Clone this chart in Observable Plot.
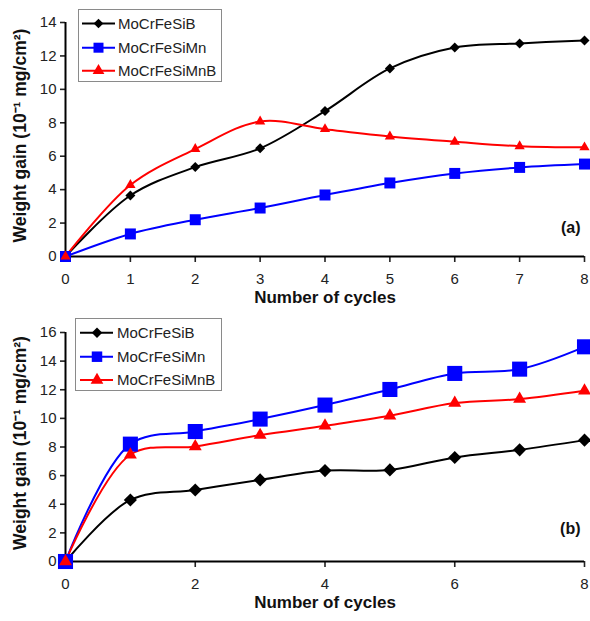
<!DOCTYPE html>
<html><head><meta charset="utf-8">
<script src="https://cdn.jsdelivr.net/npm/d3@7"></script>
<script src="https://cdn.jsdelivr.net/npm/@observablehq/plot@0.6"></script>
<style>
body{margin:0;background:#fff;font-family:"Liberation Sans",Arial,sans-serif;}
#wrap{position:relative;width:590px;height:621px;overflow:hidden;}
#wrap > svg{position:absolute;left:0;}
</style></head><body><div id="wrap"></div>
<script>
// ---- data ----
const cycles = [0, 1, 2, 3, 4, 5, 6, 7, 8];
const seriesNames = ["MoCrFeSiB", "MoCrFeSiMn", "MoCrFeSiMnB"];
const seriesColors = ["#000000", "#0000ff", "#ff0000"];
const seriesSymbols = ["diamond2", "square", "triangle"];

// panel (a)
const a_MoCrFeSiB   = [0, 3.65, 5.35, 6.47, 8.7, 11.25, 12.5, 12.75, 12.93];
const a_MoCrFeSiMn  = [0, 1.35, 2.2, 2.9, 3.68, 4.4, 4.97, 5.33, 5.53];
const a_MoCrFeSiMnB = [0, 4.28, 6.43, 8.08, 7.62, 7.18, 6.87, 6.6, 6.53];
// panel (b)
const b_MoCrFeSiB   = [0, 4.3, 5.0, 5.7, 6.35, 6.4, 7.27, 7.8, 8.48];
const b_MoCrFeSiMn  = [0, 8.2, 9.08, 9.95, 10.93, 12.02, 13.14, 13.44, 15.0];
const b_MoCrFeSiMnB = [0, 7.46, 8.04, 8.83, 9.48, 10.18, 11.07, 11.35, 11.93];

const aYTicks = [0, 2, 4, 6, 8, 10, 12, 14];
const bYTicks = [0, 2, 4, 6, 8, 10, 12, 14, 16];
const aXTicks = [0, 1, 2, 3, 4, 5, 6, 7, 8];
const bXTicks = [0, 2, 4, 6, 8];
const xTitle = "Number of cycles";
const yTitle = "Weight gain (10\u207B\u00B9 mg/cm\u00B2)";

// ---- drawing ----
const FONT = "'Liberation Sans', Arial, sans-serif";
const wrap = document.getElementById("wrap");

function panel({series, yMax, yTicks, xTicks, tag, height, top, marginBottom, radii, tagDy}) {
  const marks = [
    Plot.axisY({ticks: yTicks, tickSize: 5, tickPadding: 4, strokeWidth: 1.6, fontSize: 15, label: null}),
    Plot.axisX({ticks: xTicks, tickSize: 6, tickPadding: 11, strokeWidth: 1.6, fontSize: 15, label: null}),
    Plot.ruleY([0], {stroke: "#000", strokeWidth: 2}),
    Plot.ruleX([0], {stroke: "#000", strokeWidth: 2})
  ];
  series.forEach((vals, i) => {
    const data = vals.map((v, j) => ({x: cycles[j], y: v}));
    marks.push(Plot.line(data, {x: "x", y: "y", stroke: seriesColors[i], strokeWidth: 2, curve: "catmull-rom"}));
  });
  series.forEach((vals, i) => {
    const data = vals.map((v, j) => ({x: cycles[j], y: v}));
    marks.push(Plot.dot(data, {x: "x", y: "y", symbol: () => seriesSymbols[i], fill: seriesColors[i], stroke: "none", r: radii[i]}));
  });
  marks.push(
    Plot.text([tag], {frameAnchor: "bottom-right", text: d => d, dx: -4, dy: tagDy, fontWeight: "bold", fontSize: 16, textAnchor: "end", fill: "#111"}),
    Plot.text([xTitle], {frameAnchor: "bottom", text: d => d, dy: 46, fontWeight: "bold", fontSize: 17, fill: "#111"}),
    Plot.text([yTitle], {frameAnchor: "left", text: d => d, dx: -45, dy: -4, rotate: -90, textAnchor: "middle", fontWeight: "bold", fontSize: 17.5, fill: "#111"})
  );
  const svg = Plot.plot({
    width: 590, height,
    marginTop: 22, marginLeft: 65, marginRight: 6, marginBottom,
    x: {domain: [0, 8]},
    y: {domain: [0, yMax]},
    symbol: {type: "identity"},
    style: {fontFamily: FONT, color: "#222", background: "transparent", overflow: "visible"},
    marks
  });
  svg.style.top = top + "px";
  wrap.appendChild(svg);
}

function legend({left, top, width, height, rows, lineX0, lineX1, markerX, textX, sizes}) {
  const svg = d3.select(wrap).append("svg")
    .style("position", "absolute").style("left", left + "px").style("top", top + "px")
    .attr("width", width).attr("height", height);
  svg.append("rect").attr("x", 0.5).attr("y", 0.5).attr("width", width - 1).attr("height", height - 1)
    .attr("fill", "#fff").attr("stroke", "#8a8a8a");
  const syms = [d3.symbolDiamond2, d3.symbolSquare, d3.symbolTriangle];
  seriesNames.forEach((name, i) => {
    const y = rows[i];
    svg.append("line").attr("x1", lineX0).attr("x2", lineX1).attr("y1", y).attr("y2", y)
      .attr("stroke", seriesColors[i]).attr("stroke-width", 2);
    svg.append("path").attr("d", d3.symbol(syms[i], sizes[i])())
      .attr("transform", `translate(${markerX},${y})`).attr("fill", seriesColors[i]);
    svg.append("text").attr("x", textX).attr("y", y).attr("dy", "0.36em")
      .attr("font-family", FONT).attr("font-size", 15).attr("fill", "#222").text(name);
  });
}

panel({
  series: [a_MoCrFeSiB, a_MoCrFeSiMn, a_MoCrFeSiMnB],
  yMax: 14, yTicks: aYTicks, xTicks: aXTicks, tag: "(a)",
  height: 310, top: 0, marginBottom: 54, radii: [4.5, 6.2, 3.8], tagDy: -24
});
panel({
  series: [b_MoCrFeSiB, b_MoCrFeSiMn, b_MoCrFeSiMnB],
  yMax: 16, yTicks: bYTicks, xTicks: bXTicks, tag: "(b)",
  height: 311, top: 310, marginBottom: 60, radii: [5.9, 8.5, 4.8], tagDy: -28
});
legend({left: 78, top: 9, width: 144, height: 73, rows: [14.5, 38.7, 61.7],
  lineX0: 4, lineX1: 37, markerX: 20.5, textX: 40, sizes: [60, 100, 60]});
legend({left: 75, top: 318, width: 147, height: 73, rows: [14.7, 38.7, 62],
  lineX0: 5, lineX1: 38, markerX: 22, textX: 42, sizes: [70, 110, 70]});
</script></body></html>
